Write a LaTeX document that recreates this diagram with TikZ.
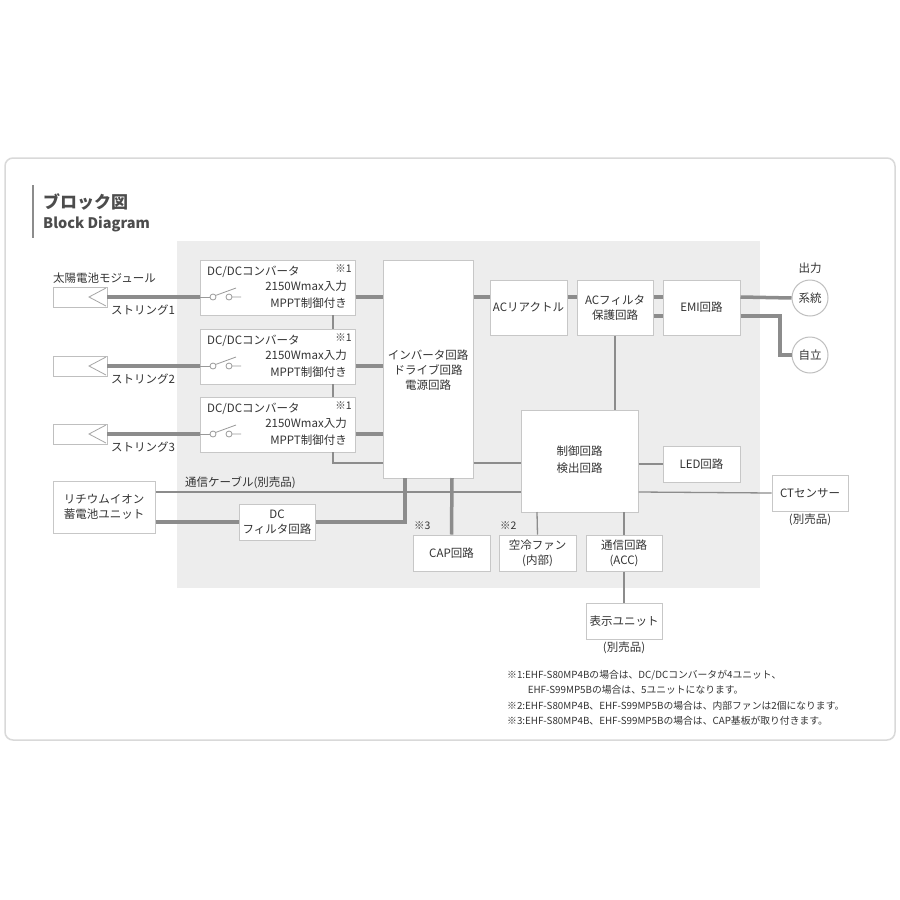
\documentclass[tikz,border=0pt]{standalone}
\usepackage{fontspec}
\setmainfont{Noto Sans CJK JP}
\begin{document}
\begin{tikzpicture}[x=1pt,y=-1pt,
  txt/.style={text=black!80,inner sep=0pt,font=\fontsize{11.5}{15}\selectfont},
  bx/.style={draw=black!22,line width=1pt,fill=white},
  thick line/.style={draw=black!45,line width=3.5pt},
  thin line/.style={draw=black!45,line width=1.3pt}]
\useasboundingbox (0,0) rectangle (900,900);
\fill[white] (0,0) rectangle (900,900);
\draw[black!15,line width=1.5pt,rounded corners=8pt] (5,158) rectangle (895,740);
\draw[black!45,line width=1.5pt] (33,185) -- (33,238);
\node[txt,anchor=west,font=\fontsize{17}{17}\bfseries\selectfont,text=black!70] (t1) at (43,202) {ブロック図};
\node[txt,anchor=west,font=\fontsize{14.5}{15}\bfseries\selectfont,text=black!70] (t2) at (43,224) {Block Diagram};
\fill[black!7] (177,241) rectangle (760,588);

% solar panels
\foreach \i/\y in {1/297,2/366,3/434}{
  \node[draw=black!25,line width=0.8pt,minimum width=54pt,minimum height=20pt,inner sep=0pt,fill=white] (p\i) at (80,\y) {};
  \draw[black!35,line width=0.8pt] (106,\y-9) -- (89,\y) -- (106,\y+9);
  \node[txt,anchor=west] (sl\i) at (111,\y+13) {ストリング\i};
  \node[bx,minimum width=155pt,minimum height=55pt,inner sep=0pt] (c\i) at (277.5,\y-9.5) {};
  \node[txt,anchor=west] (ca\i) at (207,\y-25) {DC/DCコンバータ};
  \node[txt,anchor=east,font=\fontsize{10.5}{10}\selectfont] (cn\i) at (352,\y-28) {※1};
  \node[txt,anchor=east] (cb\i) at (347,\y-11) {2150Wmax入力};
  \node[txt,anchor=east] (cc\i) at (347,\y+6) {MPPT制御付き};
  \draw[black!40,line width=0.8pt] (c\i.west|-0,\y) -- (210,\y);
  \draw[black!40,line width=0.8pt] (213,\y) circle[radius=3] (229,\y) circle[radius=3];
  \draw[black!40,line width=0.8pt] (215.5,\y-1.5) -- (236,\y-9) (232,\y) -- (241,\y);
  \draw[thick line] (p\i.east) -- (c\i.west|-p\i.east);
}
\node[txt,anchor=west] (sm) at (53,278) {太陽電池モジュール};

\node[bx,minimum width=90pt,minimum height=218pt,inner sep=0pt] (inv) at (428,369) {};
\node[txt,align=center] (invt) at (428,370) {インバータ回路\\ドライブ回路\\電源回路};
\foreach \i/\y in {1/297,2/366,3/434}{\draw[thick line] (c\i.east|-0,\y) -- (inv.west|-0,\y);}
\draw[thin line] (333,315) -- (333,329) (333,384) -- (333,397);
\draw[thin line] (333,452) |- (inv.west|-0,463);

\node[bx,minimum width=77pt,minimum height=55pt,inner sep=0pt] (acr) at (528.5,307.5) {};
\node[txt] (acrt) at (acr) {ACリアクトル};
\node[bx,minimum width=76pt,minimum height=55pt,inner sep=0pt] (acf) at (615,307.5) {};
\node[txt,align=center] (acft) at (acf) {ACフィルタ\\保護回路};
\node[bx,minimum width=77pt,minimum height=55pt,inner sep=0pt] (emi) at (701.5,307.5) {};
\node[txt] (emit) at (emi) {EMI回路};
\node[draw=black!25,line width=1pt,fill=white,circle,minimum size=36pt,inner sep=0pt] (kei) at (810,298) {};
\node[txt] (keit) at (kei) {系統};
\node[draw=black!25,line width=1pt,fill=white,circle,minimum size=36pt,inner sep=0pt] (jir) at (810,355) {};
\node[txt] (jirt) at (jir) {自立};
\node[txt] (out) at (810,268) {出力};
\draw[thick line] (inv.east|-0,297) -- (acr.west|-0,297);
\draw[thick line] (acr.east|-0,297) -- (acf.west|-0,297);
\draw[thick line] (acf.east|-0,297) -- (emi.west|-0,297);
\draw[thick line] (acf.east|-0,316) -- (emi.west|-0,316);
\draw[thick line] (emi.east|-0,297) -- (kei.west);
\draw[thick line] (emi.east|-0,316) -- (780,316) -- (780,355) -- (jir.west);

\node[bx,minimum width=117pt,minimum height=102pt,inner sep=0pt] (ctl) at (579.5,461) {};
\node[txt,align=center] (ctlt) at (579.5,460) {制御回路\\[2pt]検出回路};
\node[bx,minimum width=77pt,minimum height=36pt,inner sep=0pt] (led) at (701.5,464) {};
\node[txt] (ledt) at (led) {LED回路};
\node[bx,minimum width=76pt,minimum height=36pt,inner sep=0pt] (ct) at (810,493) {};
\node[txt] (ctt) at (ct) {CTセンサー};
\node[txt] (ctn) at (810,520) {(別売品)};
\draw[thin line] (acf.south) -- (ctl.north-|acf.south);
\draw[thin line] (inv.east|-0,463) -- (ctl.west|-0,463);
\draw[thin line] (ctl.east|-0,464) -- (led.west);

\node[bx,minimum width=102pt,minimum height=52pt,inner sep=0pt] (li) at (104,507) {};
\node[txt,align=center] (lit) at (li) {リチウムイオン\\蓄電池ユニット};
\node[bx,minimum width=76pt,minimum height=36pt,inner sep=0pt] (dcf) at (277,522) {};
\node[txt,align=center] (dcft) at (dcf) {DC\\フィルタ回路};
\node[txt,anchor=west] (cab) at (185,483) {通信ケーブル(別売品)};
\draw[thin line] (li.east|-0,492) -- (ctl.west|-0,492);
\draw[thin line] (ctl.east|-0,492) -- (ct.west);
\draw[thick line] (li.east|-0,522) -- (dcf.west);
\draw[thick line] (dcf.east) -- (405,522) -- (405,478);

\node[bx,minimum width=77pt,minimum height=36pt,inner sep=0pt] (cap) at (451.5,553) {};
\node[txt] (capt) at (cap) {CAP回路};
\node[txt,anchor=west,font=\fontsize{10.5}{10}\selectfont] (n3) at (414,526) {※3};
\node[bx,minimum width=77pt,minimum height=36pt,inner sep=0pt] (fan) at (537.5,553) {};
\node[txt,align=center] (fant) at (fan) {空冷ファン\\(内部)};
\node[txt,anchor=west,font=\fontsize{10.5}{10}\selectfont] (n2) at (500,526) {※2};
\node[bx,minimum width=76pt,minimum height=36pt,inner sep=0pt] (com) at (624,553) {};
\node[txt,align=center] (comt) at (com) {通信回路\\(ACC)};
\node[bx,minimum width=76pt,minimum height=36pt,inner sep=0pt] (dsp) at (624,621) {};
\node[txt] (dspt) at (dsp) {表示ユニット};
\node[txt] (dspn) at (624,648) {(別売品)};
\draw[thick line] (452,478) -- (cap.north);
\draw[thin line] (537,512) -- (fan.north);
\draw[thin line] (624,512) -- (com.north);
\draw[thin line] (com.south) -- (dsp.north);

\node[txt,anchor=west,align=left,font=\fontsize{9.8}{15.5}\selectfont] (notes) at (507,698) {※1:EHF-S80MP4Bの場合は、DC/DCコンバータが4ユニット、\\\hspace{2.1em}EHF-S99MP5Bの場合は、5ユニットになります。\\※2:EHF-S80MP4B、EHF-S99MP5Bの場合は、内部ファンは2個になります。\\※3:EHF-S80MP4B、EHF-S99MP5Bの場合は、CAP基板が取り付きます。};
\end{tikzpicture}
\end{document}
